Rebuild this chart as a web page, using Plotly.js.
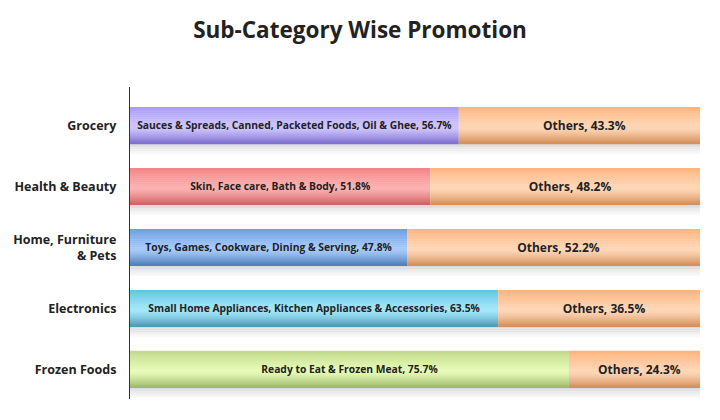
<!DOCTYPE html>
<html>
<head>
<meta charset="utf-8">
<script src="https://cdn.plot.ly/plotly-3.0.1.min.js"></script>
<style>html,body{margin:0;padding:0;background:#fff;}#chart{width:720px;height:420px;}</style>
</head>
<body>
<div id="chart"></div>
<script>
// ---- data ----
const categories = ['Grocery', 'Health & Beauty', 'Home, Furniture<br>& Pets', 'Electronics', 'Frozen Foods'];
const subCategories = [
  'Sauces & Spreads, Canned, Packeted Foods, Oil & Ghee',
  'Skin, Face care, Bath & Body',
  'Toys, Games, Cookware, Dining & Serving',
  'Small Home Appliances, Kitchen Appliances & Accessories',
  'Ready to Eat & Frozen Meat'
];
const promotedShare = [56.7, 51.8, 47.8, 63.5, 75.7];
const othersShare = [43.3, 48.2, 52.2, 36.5, 24.3];
const othersLabel = 'Others';

// ---- styles ----
// [top, light, bottom] gradient colours per category
const promotedColors = [
  ['#a897f6', '#cfc6ff', '#7a6bcb'],
  ['#f28282', '#fcb0b0', '#cd5f5f'],
  ['#6a9ce0', '#a5caf9', '#4c7bb6'],
  ['#61c2de', '#a2e7fb', '#4698b3'],
  ['#bed789', '#e7fbb6', '#9ab765']
];
const othersColors = ['#fdb179', '#ffd7b7', '#d28b56'];

function hex2rgb(h){return [parseInt(h.slice(1,3),16),parseInt(h.slice(3,5),16),parseInt(h.slice(5,7),16)];}
function mix(a,b,t){const A=hex2rgb(a),B=hex2rgb(b);return 'rgb('+A.map((v,i)=>Math.round(v+(B[i]-v)*t)).join(',')+')';}
function grad(stops,t){
  const [top, light, bot] = stops;
  if (t < 0.55) return mix(top, light, Math.pow(t/0.55, 0.8));
  const u = (t-0.55)/0.45;
  return mix(light, bot, Math.pow(u, 1.3));
}

const BW = 0.6, N = 18, h = BW / N;
const traces = [];
const totals = promotedShare.map((v,i)=>v+othersShare[i]);

// soft shadow under the bars
const SH = 6;
for (let k = 0; k < SH; k++) {
  traces.push({
    type:'bar', orientation:'h', y:categories, x:totals, base:0,
    width: 0.035, offset: BW/2 - 0.01 + k*0.03,
    marker:{color:'rgba(0,0,0,'+(0.12*(1-k/SH)).toFixed(3)+')', line:{width:0}},
    hoverinfo:'skip', showlegend:false
  });
}

for (let i = 0; i < N; i++) {
  const t = (i+0.5)/N;
  traces.push({
    type:'bar', orientation:'h', y:categories, x:promotedShare, base:0,
    width: h*1.25, offset: -BW/2 + i*h,
    marker:{color: promotedColors.map(c=>grad(c,t)), line:{width:0}},
    hoverinfo:'skip', showlegend:false
  });
  traces.push({
    type:'bar', orientation:'h', y:categories, x:othersShare, base:promotedShare,
    width: h*1.25, offset: -BW/2 + i*h,
    marker:{color: grad(othersColors,t), line:{width:0}},
    hoverinfo:'skip', showlegend:false
  });
}
// labels
traces.push({
  type:'bar', orientation:'h', y:categories, x:promotedShare, base:0,
  width: BW, offset:-BW/2,
  marker:{color:'rgba(0,0,0,0)', line:{width:0}},
  text: subCategories.map((s,i)=>s+', '+promotedShare[i].toFixed(1)+'%'),
  textposition:'inside', insidetextanchor:'middle', constraintext:'none',
  textfont:{family:'Open Sans', size:10.3, color:'#222', weight:700},
  hoverinfo:'skip', showlegend:false
});
traces.push({
  type:'bar', orientation:'h', y:categories, x:othersShare, base:promotedShare,
  width: BW, offset:-BW/2,
  marker:{color:'rgba(0,0,0,0)', line:{width:0}},
  text: othersShare.map(v=>othersLabel+', '+v.toFixed(1)+'%'),
  textposition:'inside', insidetextanchor:'middle', constraintext:'none',
  textfont:{family:'Open Sans', size:12, color:'#222', weight:700},
  hoverinfo:'skip', showlegend:false
});

const layout = {
  width:720, height:420,
  paper_bgcolor:'#fff', plot_bgcolor:'#fff',
  margin:{l:130, r:20, t:87, b:21},
  barmode:'overlay',
  hovermode:false,
  showlegend:false,
  title:{text:'Sub-Category Wise Promotion', x:0.5, xref:'container', y:1-30/420, yref:'container', yanchor:'middle',
         font:{family:'Open Sans', size:22.5, color:'#222', weight:700}},
  xaxis:{range:[0,98.3], visible:false, fixedrange:true},
  yaxis:{type:'category', range:[4.49,-0.63], showline:true, linecolor:'#333', linewidth:1.2,
         showgrid:false, zeroline:false, ticks:'outside', ticklen:10, tickcolor:'rgba(0,0,0,0)',
         tickfont:{family:'Open Sans', size:12.5, color:'#222', weight:700}, fixedrange:true}
};

Plotly.newPlot('chart', traces, layout, {displayModeBar:false, responsive:false});
</script>
</body>
</html>
